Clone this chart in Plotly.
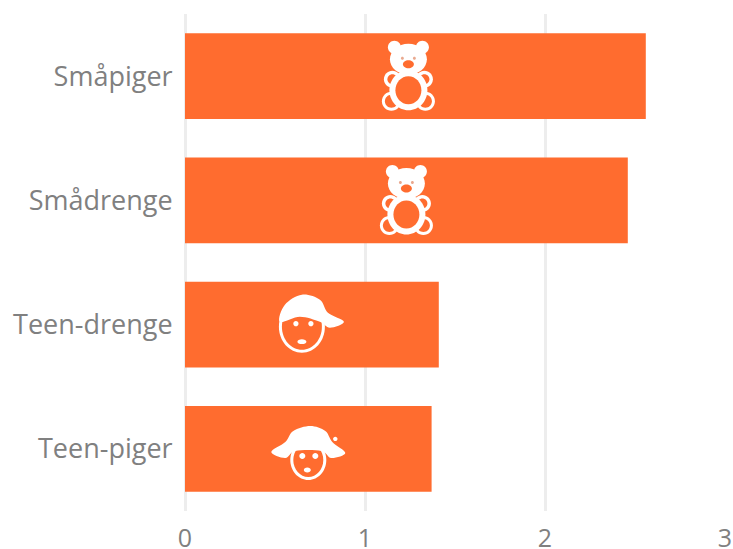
import plotly.graph_objects as go

categories = ["Småpiger", "Smådrenge", "Teen-drenge", "Teen-piger"]
values = [2.56, 2.46, 1.41, 1.37]
x_ticks = [0, 1, 2, 3]
icons = ["bear", "bear", "boy", "girl"]
icon_nudge_px = [-7, 0, 0, 0]

BAR = "#FF6C2F"
WHITE = "#FFFFFF"
K = 0.5523


def ell(cx, cy, rx, ry=None):
    ry = rx if ry is None else ry
    cy = -cy
    kx, ky = K * rx, K * ry
    return (f"M{cx - rx},{cy} "
            f"C{cx - rx},{cy + ky} {cx - kx},{cy + ry} {cx},{cy + ry} "
            f"C{cx + kx},{cy + ry} {cx + rx},{cy + ky} {cx + rx},{cy} "
            f"C{cx + rx},{cy - ky} {cx + kx},{cy - ry} {cx},{cy - ry} "
            f"C{cx - kx},{cy - ry} {cx - rx},{cy - ky} {cx - rx},{cy} Z")


def poly(points):
    # smooth closed curve through points (Catmull-Rom to cubic bezier)
    n = len(points)
    d = f"M{points[0][0]},{-points[0][1]} "
    for i in range(n):
        p0, p1, p2, p3 = points[i - 1], points[i], points[(i + 1) % n], points[(i + 2) % n]
        c1 = (p1[0] + (p2[0] - p0[0]) / 6, p1[1] + (p2[1] - p0[1]) / 6)
        c2 = (p2[0] - (p3[0] - p1[0]) / 6, p2[1] - (p3[1] - p1[1]) / 6)
        d += f"C{c1[0]:.1f},{-c1[1]:.1f} {c2[0]:.1f},{-c2[1]:.1f} {p2[0]},{-p2[1]} "
    return d + "Z"


def ring(cx, cy, rx, ry=None, w=3):
    ry = rx if ry is None else ry
    return [(ell(cx, cy, rx, ry), WHITE), (ell(cx, cy, rx - w, ry - w), BAR)]


def bear():
    parts = []
    parts += [(ell(-14, -29, 6.5), WHITE), (ell(14, -29, 6.5), WHITE)]
    parts += ring(-16, 3, 8.5, 8.5, 3.5) + ring(16, 3, 8.5, 8.5, 3.5)
    parts += ring(-17, 25, 9.5) + ring(17, 25, 9.5)
    parts += ring(0, 14, 19, 20, 6)
    parts += [(ell(0, -17, 18.5, 15.5), WHITE), (ell(0, -12, 5.5, 4), BAR)]
    parts += [(ell(-6, -18, 1.5), "#E9A98F"), (ell(6, -18, 1.5), "#E9A98F")]
    return parts


def boy():
    parts = ring(-10, 2, 23, 26, 3)
    parts.append((poly([(-32, -3), (-27, -20), (-10, -30), (8, -25), (16, -12),
                        (32, -3), (18, 3), (8, -3), (-12, -8)]), WHITE))
    parts += [(ell(-16, -1, 2.6), WHITE), (ell(-1, -1, 2.6), WHITE)]
    parts.append((ell(-10, 17, 4.5, 2.4), WHITE))
    return parts


def girl():
    parts = ring(0, 11, 18, 20, 3)
    parts.append((poly([(-37, 3), (-23, -7), (-15, -18), (2, -23), (17, -18), (24, -7),
                        (37, 4), (23, 9), (13, 2), (-13, 2), (-23, 9)]), WHITE))
    parts += [(ell(-6, 7, 3), WHITE), (ell(7, 7, 3), WHITE),
              (ell(-1, 21, 3.5, 2.5), WHITE), (ell(27, -10, 2.2), WHITE)]
    return parts


ICON = {"bear": bear, "boy": boy, "girl": girl}

shapes = []
for i, (val, name, nudge) in enumerate(zip(values, icons, icon_nudge_px)):
    for path, color in ICON[name]():
        shapes.append(dict(
            type="path", path=path, xref="x", yref="y",
            xsizemode="pixel", ysizemode="pixel",
            xanchor=val / 2 + nudge / 180, yanchor=i,
            fillcolor=color, line=dict(width=0), layer="above",
        ))

fig = go.Figure(go.Bar(x=values, y=categories, orientation="h",
                       marker=dict(color=BAR, line=dict(width=0)),
                       hoverinfo="x+y"))

font = dict(family="Open Sans", size=27, color="#808080")
x_font = dict(family="Open Sans", size=25, color="#808080")
fig.update_layout(
    width=733, height=549,
    margin=dict(l=185, r=8, t=14, b=38, pad=0),
    paper_bgcolor="white", plot_bgcolor="white",
    bargap=0.31, showlegend=False, shapes=shapes,
    xaxis=dict(range=[0, 3], tickvals=x_ticks, ticktext=[str(t) for t in x_ticks],
               automargin=False,
               showgrid=True, gridcolor="#EDEDED", gridwidth=2.5,
               zeroline=True, zerolinecolor="#EDEDED", zerolinewidth=2.5,
               showline=False, ticks="outside", ticklen=5, tickcolor="rgba(0,0,0,0)",
               tickfont=x_font),
    yaxis=dict(categoryorder="array", categoryarray=categories, autorange="reversed",
               automargin=False,
               showgrid=False, zeroline=False, showline=False,
               ticks="outside", ticklen=6, tickcolor="rgba(0,0,0,0)", tickfont=font),
)
fig.write_html(
    "out.html",
    config={"displayModeBar": False},
    post_script="document.body.style.margin='0';document.documentElement.style.overflow='hidden';",
)
